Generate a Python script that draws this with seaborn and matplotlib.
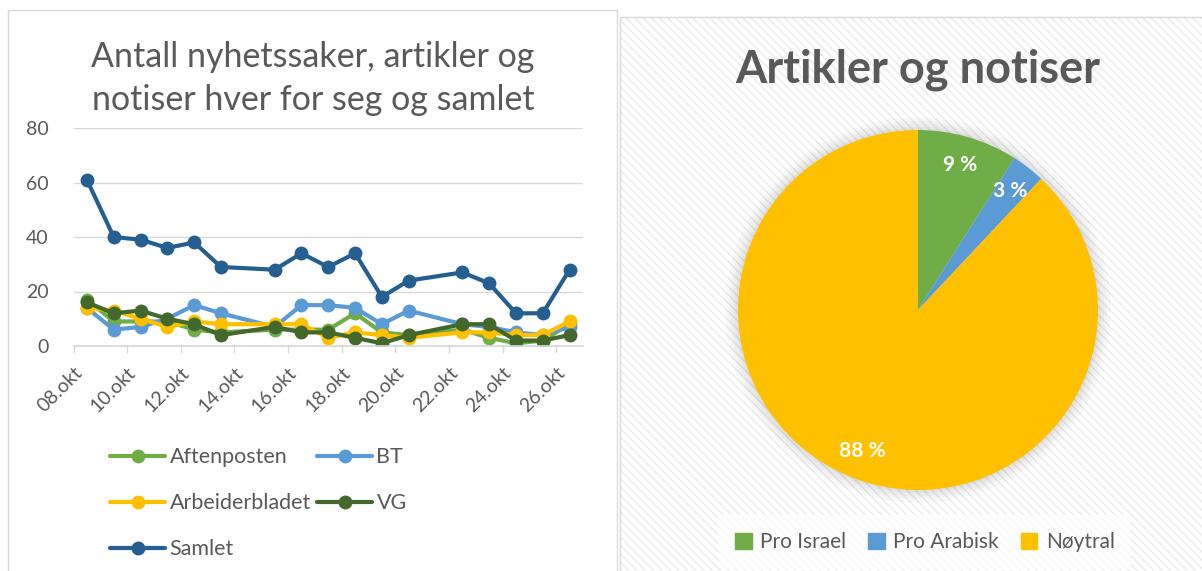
import matplotlib
matplotlib.use("Agg")
import matplotlib.pyplot as plt
from matplotlib.patches import Rectangle, Circle
from matplotlib.lines import Line2D
from matplotlib.transforms import ScaledTranslation
import seaborn as sns
import pandas as pd

# dager (oktober) med data
dager = [8, 9, 10, 11, 12, 13, 15, 16, 17, 18, 19, 20, 22, 23, 24, 25, 26]
aftenposten = [17, 9, 9, 9, 6, 5, 6, 6, 6, 12, 5, 4, 6, 3, 1, 2, 8]
bt = [14, 6, 7, 10, 15, 12, 7, 15, 15, 14, 8, 13, 8, 7, 5, 4, 7]
arbeiderbladet = [14, 13, 10, 7, 9, 8, 8, 8, 3, 5, 4, 3, 5, 5, 4, 4, 9]
vg = [16, 12, 13, 10, 8, 4, 7, 5, 5, 3, 1, 4, 8, 8, 2, 2, 4]
samlet = [61, 40, 39, 36, 38, 29, 28, 34, 29, 34, 18, 24, 27, 23, 12, 12, 28]

serier = ["Aftenposten", "BT", "Arbeiderbladet", "VG", "Samlet"]
farger = ["#70AD47", "#5B9BD5", "#FFC000", "#43682B", "#255E91"]

x_ticks = list(range(8, 27, 2))
x_labels = [f"{d:02d}.okt" for d in x_ticks]

pie_labels = ["Pro Israel", "Pro Arabisk", "Nøytral"]
pie_values = [9, 3, 88]
pie_colors = ["#70AD47", "#5B9BD5", "#FFC000"]

sns.set_theme(style="white")
plt.rcParams["font.family"] = ["Lato", "DejaVu Sans"]
tekst = "#595959"
grid = "#D9D9D9"

W, H = 1202, 571
fig = plt.figure(figsize=(W / 100, H / 100), dpi=100)


def box(x0, y0, x1, y1):
    return [x0 / W, 1 - y1 / H, (x1 - x0) / W, (y1 - y0) / H]


# panel rammer
fig.patches.append(Rectangle((8 / W, -0.1), (617 - 8) / W, 1.1 - 10 / H,
                             transform=fig.transFigure, facecolor="white",
                             edgecolor=grid, lw=1, zorder=-5))
plt.rcParams["hatch.linewidth"] = 1.2
fig.patches.append(Rectangle((620 / W, -0.1), 0.6, 1.1 - 17 / H,
                             transform=fig.transFigure, facecolor="white",
                             edgecolor="#EDEDED", hatch="\\\\\\\\", lw=0, zorder=-5))
fig.patches.append(Rectangle((620 / W, -0.1), 0.6, 1.1 - 17 / H,
                             transform=fig.transFigure, facecolor="none",
                             edgecolor=grid, lw=1, zorder=-4))

# linjediagram
df = pd.DataFrame({
    "dag": dager * 5,
    "antall": aftenposten + bt + arbeiderbladet + vg + samlet,
    "avis": sum([[s] * len(dager) for s in serier], []),
})
df["x"] = df["dag"] + 0.5

ax = fig.add_axes(box(73.5, 128, 583, 346))
ax.set_zorder(2)
ax.set_facecolor("none")
sns.lineplot(data=df, x="x", y="antall", hue="avis", hue_order=serier,
             palette=farger, marker="o", markersize=10, markeredgewidth=0,
             linewidth=3.0, legend=False, ax=ax, estimator=None, sort=False)
ax.set_xlim(8, 27)
ax.set_ylim(0, 80)
ax.set_yticks([0, 20, 40, 60, 80])
ax.set_xticks(x_ticks)
ax.set_xticklabels(x_labels, rotation=45, ha="right", rotation_mode="anchor")
off = ScaledTranslation(14 / 72, 0, fig.dpi_scale_trans)
for lbl in ax.get_xticklabels():
    lbl.set_transform(lbl.get_transform() + off)
ax.set_xlabel("")
ax.set_ylabel("")
ax.grid(axis="y", color=grid, lw=1)
for s in ["top", "right", "left"]:
    ax.spines[s].set_visible(False)
ax.spines["bottom"].set_color(grid)
ax.tick_params(axis="x", colors=tekst, labelsize=14, length=5, width=1,
               color=grid, bottom=True, pad=8)
ax.tick_params(axis="y", colors=tekst, labelsize=14, length=0, pad=18)

fig.text(313 / W, 1 - 57 / H, "Antall nyhetssaker, artikler og",
         ha="center", va="center", fontsize=24.5, color=tekst)
fig.text(313 / W, 1 - 100 / H, "notiser hver for seg og samlet",
         ha="center", va="center", fontsize=24.5, color=tekst)

handles = [Line2D([], [], color=c, marker="o", markersize=10, lw=3.0,
                  markeredgewidth=0) for c in farger]
order = [0, 2, 4, 1, 3]
fig.legend([handles[i] for i in order], [serier[i] for i in order],
           ncol=2, loc="upper left", bbox_to_anchor=(91 / W, 1 - 428 / H),
           frameon=False, fontsize=15.5, labelcolor=tekst, handlelength=2.55,
           handletextpad=0.2, columnspacing=0.3, labelspacing=1.2)

# kakediagram
pax = fig.add_axes(box(738, 130, 1098, 490))
pax.set_zorder(2)
for r in [1.07, 1.05, 1.035, 1.02, 1.01]:
    pax.add_patch(Circle((0, 0), r, facecolor="#000000", alpha=0.025,
                         lw=0, clip_on=False, zorder=0))
pax.pie(pie_values, colors=pie_colors, startangle=90, counterclock=False,
        autopct=lambda p: f"{p:.0f} %", pctdistance=0.84,
        wedgeprops=dict(linewidth=0, zorder=2),
        textprops=dict(color="white", fontsize=15, fontweight="bold"))
pax.set_xlim(-1, 1)
pax.set_ylim(-1, 1)
pax.set_aspect("equal")

fig.text(918 / W, 1 - 70 / H, "Artikler og notiser", ha="center", va="center",
         fontsize=32.5, fontweight="bold", color=tekst)

fig.legend([Rectangle((0, 0), 1, 1, color=c) for c in pie_colors], pie_labels,
           ncol=3, loc="center", bbox_to_anchor=(925 / W, 1 - 542 / H),
           frameon=True, facecolor="white", edgecolor="none", framealpha=0.7,
           fontsize=15, labelcolor=tekst, handlelength=0.8, handleheight=0.8,
           handletextpad=0.4, columnspacing=1.05, borderpad=0.8)

fig.savefig("out.png", dpi=100)
